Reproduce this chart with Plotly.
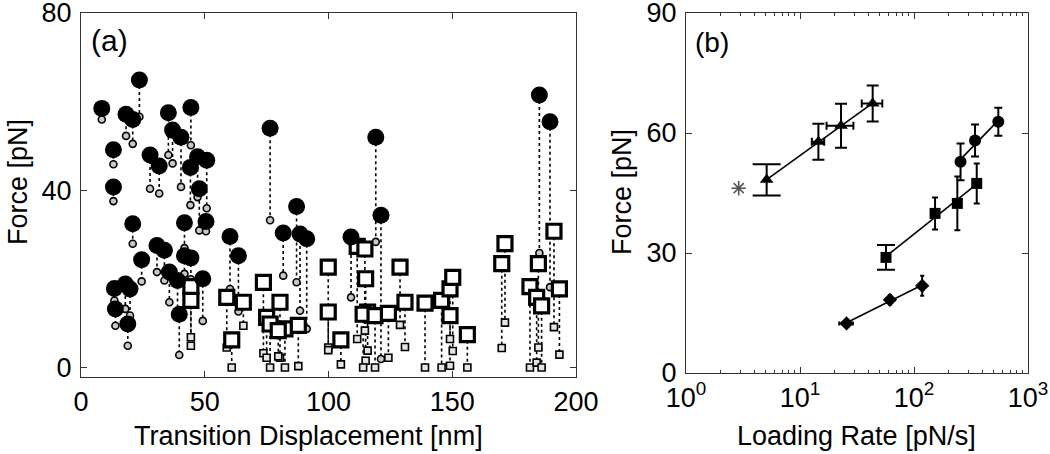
import numpy as np
import plotly.graph_objects as go

# ---------------- Panel (a) data ----------------
circ_x = [8.4, 23.6, 18.2, 20.9, 35.3, 44.4, 37.0, 40.4, 13.1, 27.9, 31.6, 47.1, 50.8, 44.2, 47.8,
          13.1, 20.9, 41.8, 50.5, 30.7, 33.7, 24.5, 41.8, 44.4, 35.7, 39.0, 49.2, 39.7, 13.5, 17.9,
          19.8, 13.9, 18.9, 60.2, 63.6, 76.4, 87.1, 81.7, 88.5, 91.2, 119.1, 121.2, 109.1, 185.2, 189.5]
circ_big = [58.5, 64.9, 57.2, 56.0, 57.5, 58.7, 53.6, 52.0, 49.2, 48.0, 45.5, 47.6, 46.8, 45.2, 40.4,
            40.8, 32.5, 32.7, 33.0, 27.6, 26.5, 24.4, 25.3, 24.8, 21.6, 19.7, 20.1, 12.1, 17.9, 18.9,
            17.8, 13.3, 9.9, 29.6, 25.3, 54.0, 36.4, 30.4, 30.2, 29.1, 52.0, 34.4, 29.5, 61.5, 55.5]
circ_small = [56.0, 56.6, 52.3, 50.5, 48.0, 50.2, 46.1, 40.8, 45.9, 40.4, 39.3, 38.5, 36.0, 36.7, 31.0,
              37.6, 28.0, 27.0, 30.8, 21.6, 19.7, 19.5, 21.2, 20.0, 14.8, 11.8, 10.6, 2.9, 15.2, 13.3,
              11.8, 9.5, 5.0, 17.8, 12.7, 33.3, 19.3, 20.8, 12.9, 8.8, 28.4, 2.0, 15.9, 25.9, 18.2]

sq_x = [44.4, 44.4, 58.9, 65.6, 60.9, 73.7, 75.0, 80.4, 76.4, 82.4, 79.7, 87.8, 99.9, 99.9, 105.0,
        111.6, 114.7, 115.0, 115.8, 114.0, 118.8, 124.2, 128.9, 130.9, 139.0, 145.7, 149.1, 150.2,
        149.1, 156.1, 171.3, 170.0, 181.4, 184.8, 184.1, 186.1, 191.1, 193.3]
sq_big = [18.3, 15.2, 15.9, 14.8, 6.3, 19.3, 11.4, 14.8, 9.9, 8.8, 8.4, 9.6, 22.7, 12.6, 6.3,
          27.4, 26.8, 20.1, 12.6, 12.1, 11.8, 12.3, 22.7, 14.8, 14.6, 15.2, 17.8, 20.4,
          11.8, 7.5, 28.0, 23.5, 18.3, 23.5, 15.9, 14.0, 30.8, 17.8]
sq_small = [6.9, 5.0, 4.6, 9.5, 0.1, 3.3, 2.3, 2.3, 0.1, 0.1, 2.6, 0.4, 4.6, 4.0, 0.8,
            6.5, 8.4, 1.6, 3.9, 0.1, 0.1, 2.3, 9.7, 4.7, 0.1, 0.1, 6.5, 3.8,
            0.5, 0.1, 10.2, 4.5, 0.1, 4.6, 1.2, 0.1, 9.2, 3.0]

# ---------------- Panel (b) data ----------------
tri_x = [5.1, 14.5, 22.9, 43.4]
tri_f = [48.3, 57.8, 61.8, 67.4]
tri_ey = [3.9, 4.5, 5.5, 4.5]
tri_ex_plus = [0, 1.8, 6.5, 9.3]
tri_ex_minus = [0, 1.8, 5.8, 8.6]

dot_x = [256, 343, 549]
dot_f = [52.8, 58.1, 62.8]
dot_ey = [4.6, 4.0, 3.5]

sqb_x = [56.8, 153, 240, 355]
sqb_f = [28.9, 39.9, 42.4, 47.4]
sqb_ey = [3.1, 4.0, 6.7, 5.0]

dia_x = [25.6, 61.5, 118]
dia_f = [12.4, 18.3, 21.8]
dia_ey = [0.8, 1.2, 2.5]
dia_ex = [3.5, 4.0, 6.0]

star_x = [2.9]
star_f = [46.2]

FONT = "Liberation Sans, Arial, Helvetica, sans-serif"
TICK_SIZE = 27
TITLE_SIZE = 27

fig = go.Figure()

def connectors(xs, a, b):
    X, Y = [], []
    for xi, ai, bi in zip(xs, a, b):
        X += [xi, xi, None]
        Y += [ai, bi, None]
    return X, Y

for xs, a, b in [(circ_x, circ_big, circ_small), (sq_x, sq_big, sq_small)]:
    X, Y = connectors(xs, a, b)
    fig.add_trace(go.Scatter(x=X, y=Y, mode="lines", line=dict(color="black", width=1.6, dash="dot"),
                             xaxis="x", yaxis="y", hoverinfo="skip", showlegend=False))

fig.add_trace(go.Scatter(x=circ_x, y=circ_small, mode="markers",
                         marker=dict(symbol="circle", size=7, color="#c8c8c8", line=dict(color="black", width=1.6)),
                         xaxis="x", yaxis="y", showlegend=False))
fig.add_trace(go.Scatter(x=sq_x, y=sq_small, mode="markers",
                         marker=dict(symbol="square", size=7, color="#e4e4e4", line=dict(color="black", width=1.6)),
                         xaxis="x", yaxis="y", showlegend=False))
fig.add_trace(go.Scatter(x=sq_x, y=sq_big, mode="markers",
                         marker=dict(symbol="square", size=14, color="white", line=dict(color="black", width=3.2)),
                         xaxis="x", yaxis="y", showlegend=False))
fig.add_trace(go.Scatter(x=circ_x, y=circ_big, mode="markers",
                         marker=dict(symbol="circle", size=17, color="black", line=dict(width=0)),
                         xaxis="x", yaxis="y", showlegend=False))

# ---------------- Panel (b) ----------------
def fit_line(xs, fs):
    lx = np.log10(xs)
    p = np.polyfit(lx, fs, 1)
    xx = np.linspace(lx.min(), lx.max(), 20)
    return 10 ** xx, np.polyval(p, xx)

for xs, fs in [(tri_x, tri_f), (dot_x, dot_f), (sqb_x, sqb_f), (dia_x, dia_f)]:
    lx, ly = fit_line(xs, fs)
    fig.add_trace(go.Scatter(x=lx, y=ly, mode="lines", line=dict(color="black", width=1.6),
                             xaxis="x2", yaxis="y2", showlegend=False, hoverinfo="skip"))

eb = dict(color="black", thickness=2)
fig.add_trace(go.Scatter(x=tri_x[:1], y=tri_f[:1], mode="markers", marker=dict(size=1, opacity=0),
                         error_y=dict(type="data", array=tri_ey[:1], width=14, **eb),
                         xaxis="x2", yaxis="y2", showlegend=False))
fig.add_trace(go.Scatter(x=sqb_x[:1], y=sqb_f[:1], mode="markers", marker=dict(size=1, opacity=0),
                         error_y=dict(type="data", array=sqb_ey[:1], width=9, **eb),
                         xaxis="x2", yaxis="y2", showlegend=False))

fig.add_trace(go.Scatter(x=tri_x[1:], y=tri_f[1:], mode="markers",
                         marker=dict(symbol="triangle-up", size=12, color="black"),
                         error_y=dict(type="data", array=tri_ey[1:], width=6, **eb),
                         error_x=dict(type="data", array=tri_ex_plus[1:], arrayminus=tri_ex_minus[1:],
                                      width=4, **eb),
                         xaxis="x2", yaxis="y2", showlegend=False))
fig.add_trace(go.Scatter(x=tri_x[:1], y=tri_f[:1], mode="markers",
                         marker=dict(symbol="triangle-up", size=12, color="black"),
                         xaxis="x2", yaxis="y2", showlegend=False))
fig.add_trace(go.Scatter(x=dot_x, y=dot_f, mode="markers",
                         marker=dict(symbol="circle", size=12, color="black"),
                         error_y=dict(type="data", array=dot_ey, width=4, **eb),
                         xaxis="x2", yaxis="y2", showlegend=False))
fig.add_trace(go.Scatter(x=sqb_x[1:], y=sqb_f[1:], mode="markers",
                         marker=dict(symbol="square", size=11, color="black"),
                         error_y=dict(type="data", array=sqb_ey[1:], width=3, **eb),
                         xaxis="x2", yaxis="y2", showlegend=False))
fig.add_trace(go.Scatter(x=sqb_x[:1], y=sqb_f[:1], mode="markers",
                         marker=dict(symbol="square", size=11, color="black"),
                         xaxis="x2", yaxis="y2", showlegend=False))
fig.add_trace(go.Scatter(x=dia_x, y=dia_f, mode="markers",
                         marker=dict(symbol="diamond", size=11, color="black"),
                         error_y=dict(type="data", array=dia_ey, width=2, **eb),
                         error_x=dict(type="data", array=dia_ex, width=2, **eb),
                         xaxis="x2", yaxis="y2", showlegend=False))
fig.add_trace(go.Scatter(x=star_x, y=star_f, mode="markers",
                         marker=dict(symbol="asterisk-open", size=12, color="#555555",
                                     line=dict(color="#555555", width=1.6)),
                         xaxis="x2", yaxis="y2", showlegend=False))

W, H = 1050, 454
def px_x(p):
    return p / W
def px_y(p):
    return 1 - p / H

axis_common = dict(showline=True, mirror="ticks", linecolor="#333333", linewidth=1.2,
                   ticks="inside", ticklen=6, tickwidth=1, tickcolor="#333333",
                   showgrid=False, zeroline=False, ticklabeloverflow="allow", automargin=False,
                   tickfont=dict(family=FONT, size=TICK_SIZE, color="black"))

fig.update_layout(
    width=W, height=H, margin=dict(l=0, r=0, t=0, b=0, autoexpand=False),
    paper_bgcolor="white", plot_bgcolor="white",
    font=dict(family=FONT, color="black"),
    xaxis=dict(domain=[px_x(81), px_x(576)], range=[0, 200], tickvals=[0, 50, 100, 150, 200],
               anchor="y", ticklabelstandoff=0, **axis_common),
    yaxis=dict(domain=[px_y(377), px_y(13)], range=[-2.05, 80], tickvals=[0, 40, 80],
               anchor="x", ticklabelstandoff=3, **axis_common),
    xaxis2=dict(domain=[px_x(686), px_x(1028)], type="log", range=[0, 3],
                tickvals=[1, 10, 100, 1000],
                ticktext=["10<sup>0</sup>", "10<sup>1</sup>", "10<sup>2</sup>", "10<sup>3</sup>"],
                minor=dict(ticks="inside", ticklen=3, tickcolor="#333333", dtick="D1"),
                anchor="y2", ticklabelstandoff=0, **axis_common),
    yaxis2=dict(domain=[px_y(373), px_y(13)], range=[0, 90], tickvals=[0, 30, 60, 90],
                anchor="x2", ticklabelstandoff=3, **axis_common),
    annotations=[
        dict(text="Force [pN]", x=px_x(18), y=px_y(182), xref="paper", yref="paper", textangle=-90,
             showarrow=False, font=dict(family=FONT, size=TITLE_SIZE), xanchor="center", yanchor="middle"),
        dict(text="Force [pN]", x=px_x(622), y=px_y(192), xref="paper", yref="paper", textangle=-90,
             showarrow=False, font=dict(family=FONT, size=TITLE_SIZE), xanchor="center", yanchor="middle"),
        dict(text="Transition Displacement [nm]", x=px_x(308), y=px_y(436), xref="paper", yref="paper",
             showarrow=False, font=dict(family=FONT, size=TITLE_SIZE), xanchor="center", yanchor="middle"),
        dict(text="Loading Rate [pN/s]", x=px_x(856), y=px_y(436), xref="paper", yref="paper",
             showarrow=False, font=dict(family=FONT, size=TITLE_SIZE), xanchor="center", yanchor="middle"),
        dict(text="(a)", x=px_x(89), y=px_y(40), xref="paper", yref="paper",
             showarrow=False, font=dict(family=FONT, size=30), xanchor="left", yanchor="middle"),
        dict(text="(b)", x=px_x(693), y=px_y(42), xref="paper", yref="paper",
             showarrow=False, font=dict(family=FONT, size=28), xanchor="left", yanchor="middle"),
    ],
)

fig.write_html("out.html", config=dict(displayModeBar=False),
               post_script="document.body.style.margin='0px';document.body.style.overflow='hidden';")
